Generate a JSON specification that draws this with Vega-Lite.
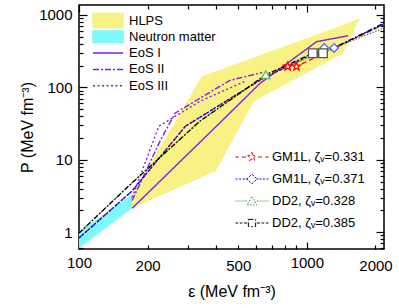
{
  "$schema": "https://vega.github.io/schema/vega-lite/v6.json",
  "width": 305,
  "height": 244,
  "autosize": "none",
  "padding": {"left": 79, "top": 5, "right": 15, "bottom": 59},
  "background": "white",
  "config": {
    "font": "Liberation Sans",
    "view": {"stroke": "black", "strokeWidth": 1.5},
    "axis": {"grid": false, "domain": false, "labelColor": "black", "titleColor": "black", "tickColor": "black", "tickWidth": 1.2, "titleFontWeight": "normal"},
    "legend": {"labelColor": "black"}
  },
  "datasets": {
    "hlps": [
      {"e": 171, "hi": 3.21, "lo": 2.13},
      {"e": 345, "hi": 141.5, "lo": 5.75},
      {"e": 399, "hi": 166.7, "lo": 7.06},
      {"e": 585, "hi": 259, "lo": 64.3},
      {"e": 1438, "hi": 725, "lo": 292},
      {"e": 1708, "hi": 900, "lo": 900}
    ],
    "nm": [
      {"e": 100, "hi": 1.0, "lo": 0.6},
      {"e": 171, "hi": 3.35, "lo": 2.13}
    ],
    "eos": [
      {"src": "EoS I", "e": 171, "p": 2.13},
      {"src": "EoS I", "e": 423, "p": 34.2},
      {"src": "EoS I", "e": 622, "p": 113},
      {"src": "EoS I", "e": 1103, "p": 427},
      {"src": "EoS I", "e": 1518, "p": 515},
      {"src": "EoS II", "e": 171, "p": 2.74},
      {"src": "EoS II", "e": 227, "p": 18.2},
      {"src": "EoS II", "e": 264, "p": 44},
      {"src": "EoS II", "e": 459, "p": 124.5},
      {"src": "EoS II", "e": 636, "p": 160},
      {"src": "EoS III", "e": 171, "p": 3.0},
      {"src": "EoS III", "e": 224, "p": 29},
      {"src": "EoS III", "e": 339, "p": 64},
      {"src": "EoS III", "e": 535, "p": 121}
    ],
    "models": [
      {"m": "GM1L, ζᵥ=0.331", "e": 100, "p": 0.83},
      {"m": "GM1L, ζᵥ=0.331", "e": 171, "p": 3.7},
      {"m": "GM1L, ζᵥ=0.331", "e": 293, "p": 29},
      {"m": "GM1L, ζᵥ=0.331", "e": 400, "p": 53},
      {"m": "GM1L, ζᵥ=0.331", "e": 500, "p": 82},
      {"m": "GM1L, ζᵥ=0.331", "e": 660, "p": 140},
      {"m": "GM1L, ζᵥ=0.331", "e": 824, "p": 194},
      {"m": "GM1L, ζᵥ=0.331", "e": 900, "p": 194},
      {"m": "GM1L, ζᵥ=0.331", "e": 1300, "p": 338},
      {"m": "GM1L, ζᵥ=0.331", "e": 2180, "p": 740},
      {"m": "GM1L, ζᵥ=0.371", "e": 100, "p": 0.83},
      {"m": "GM1L, ζᵥ=0.371", "e": 171, "p": 3.7},
      {"m": "GM1L, ζᵥ=0.371", "e": 293, "p": 29},
      {"m": "GM1L, ζᵥ=0.371", "e": 400, "p": 53},
      {"m": "GM1L, ζᵥ=0.371", "e": 500, "p": 82},
      {"m": "GM1L, ζᵥ=0.371", "e": 660, "p": 140},
      {"m": "GM1L, ζᵥ=0.371", "e": 824, "p": 194},
      {"m": "GM1L, ζᵥ=0.371", "e": 1000, "p": 264},
      {"m": "GM1L, ζᵥ=0.371", "e": 1192, "p": 350},
      {"m": "GM1L, ζᵥ=0.371", "e": 1316, "p": 350},
      {"m": "GM1L, ζᵥ=0.371", "e": 2180, "p": 750},
      {"m": "DD2, ζᵥ=0.328", "e": 100, "p": 0.97},
      {"m": "DD2, ζᵥ=0.328", "e": 171, "p": 4.8},
      {"m": "DD2, ζᵥ=0.328", "e": 339, "p": 34},
      {"m": "DD2, ζᵥ=0.328", "e": 500, "p": 80},
      {"m": "DD2, ζᵥ=0.328", "e": 660, "p": 149},
      {"m": "DD2, ζᵥ=0.328", "e": 2180, "p": 660},
      {"m": "DD2, ζᵥ=0.385", "e": 100, "p": 0.97},
      {"m": "DD2, ζᵥ=0.385", "e": 171, "p": 4.8},
      {"m": "DD2, ζᵥ=0.385", "e": 339, "p": 34},
      {"m": "DD2, ζᵥ=0.385", "e": 500, "p": 80},
      {"m": "DD2, ζᵥ=0.385", "e": 660, "p": 149},
      {"m": "DD2, ζᵥ=0.385", "e": 860, "p": 218},
      {"m": "DD2, ζᵥ=0.385", "e": 1062, "p": 295},
      {"m": "DD2, ζᵥ=0.385", "e": 1177, "p": 295},
      {"m": "DD2, ζᵥ=0.385", "e": 2180, "p": 770}
    ],
    "marks": [
      {"m": "GM1L, ζᵥ=0.331", "e": 824, "p": 194},
      {"m": "GM1L, ζᵥ=0.331", "e": 900, "p": 194},
      {"m": "GM1L, ζᵥ=0.371", "e": 1192, "p": 350},
      {"m": "GM1L, ζᵥ=0.371", "e": 1316, "p": 350},
      {"m": "DD2, ζᵥ=0.328", "e": 660, "p": 149},
      {"m": "DD2, ζᵥ=0.385", "e": 1062, "p": 295},
      {"m": "DD2, ζᵥ=0.385", "e": 1177, "p": 295}
    ]
  },
  "layer": [
    {
      "data": {"name": "hlps"},
      "mark": {"type": "area", "fill": "#F8F285", "opacity": 1},
      "encoding": {
        "x": {"field": "e", "type": "quantitative", "scale": {"type": "log", "domain": [100, 2180], "nice": false},
          "axis": {"orient": "bottom", "values": [100, 200, 300, 400, 500, 600, 700, 800, 900, 1000, 2000], "labelExpr": "indexof([100,200,500,1000,2000], datum.value) >= 0 ? format(datum.value,'d') : ''", "ticks": true, "tickSize": {"condition": {"test": "datum.value == 100 || datum.value == 1000", "value": -7}, "value": -4}, "labelFontSize": 15, "labelPadding": 13, "labelFlush": false, "labelOverlap": false, "title": "ε (MeV fm⁻³)", "titleFontSize": 16, "titlePadding": 10}},
        "y": {"field": "hi", "type": "quantitative", "scale": {"type": "log", "domain": [0.585, 1370], "nice": false},
          "axis": {"orient": "left", "values": [0.6, 0.7, 0.8, 0.9, 1, 2, 3, 4, 5, 6, 7, 8, 9, 10, 20, 30, 40, 50, 60, 70, 80, 90, 100, 200, 300, 400, 500, 600, 700, 800, 900, 1000], "labelExpr": "indexof([1,10,100,1000], datum.value) >= 0 ? format(datum.value,'d') : ''", "ticks": true, "tickSize": {"condition": {"test": "indexof([1,10,100,1000], datum.value) >= 0", "value": -8}, "value": -4}, "labelFontSize": 15, "labelPadding": 15, "labelFlush": false, "labelOverlap": false, "title": "P (MeV fm⁻³)", "titleFontSize": 16, "titlePadding": 3}},
        "y2": {"field": "lo"}
      }
    },
    {
      "data": {"name": "nm"},
      "mark": {"type": "area", "fill": "#7DF9FA", "opacity": 1},
      "encoding": {
        "x": {"field": "e", "type": "quantitative", "scale": {"type": "log", "domain": [100, 2180], "nice": false},
          "axis": {"orient": "top", "values": [100, 200, 300, 400, 500, 600, 700, 800, 900, 1000, 2000], "labels": false, "ticks": true, "tickSize": {"condition": {"test": "datum.value == 100 || datum.value == 1000", "value": -7}, "value": -4}, "title": null}},
        "y": {"field": "hi", "type": "quantitative", "scale": {"type": "log", "domain": [0.585, 1370], "nice": false},
          "axis": {"orient": "right", "values": [0.6, 0.7, 0.8, 0.9, 1, 2, 3, 4, 5, 6, 7, 8, 9, 10, 20, 30, 40, 50, 60, 70, 80, 90, 100, 200, 300, 400, 500, 600, 700, 800, 900, 1000], "labels": false, "ticks": true, "tickSize": {"condition": {"test": "indexof([1,10,100,1000], datum.value) >= 0", "value": -8}, "value": -4}, "title": null}},
        "y2": {"field": "lo"}
      }
    },
    {
      "data": {"name": "eos"},
      "mark": {"type": "line", "strokeWidth": 1.4},
      "encoding": {
        "x": {"field": "e", "type": "quantitative", "scale": {"type": "log", "domain": [100, 2180], "nice": false}, "axis": null},
        "y": {"field": "p", "type": "quantitative", "scale": {"type": "log", "domain": [0.585, 1370], "nice": false}, "axis": null},
        "color": {"field": "src", "type": "nominal",
          "scale": {"domain": ["HLPS", "Neutron matter", "EoS I", "EoS II", "EoS III"], "range": ["#F8F285", "#7DF9FA", "#8020F0", "#8020F0", "#8020F0"]},
          "legend": {"orient": "none", "legendX": 13, "legendY": 7.5, "title": null, "padding": 0, "clipHeight": 16, "rowPadding": 0.3, "labelFontSize": 13, "labelOffset": 5, "symbolSize": 900, "symbolStrokeWidth": 1.5,
            "encode": {"symbols": {"update": {
              "shape": {"signal": "['M-1,-0.5H1V0.5H-1Z','M-1,-0.38H1V0.38H-1Z','M-1,0H1','M-1,0H1','M-1,0H1'][datum.index]"},
              "fill": {"signal": "['#F8F285','#7DF9FA','transparent','transparent','transparent'][datum.index]"},
              "stroke": {"signal": "['transparent','transparent','#8020F0','#8020F0','#8020F0'][datum.index]"},
              "strokeDash": {"signal": "[[1,0],[1,0],[1,0],[6,2,2,2],[2,2.5]][datum.index]"},
              "opacity": {"value": 1}
            }}}}},
        "strokeDash": {"field": "src", "type": "nominal", "scale": {"domain": ["EoS I", "EoS II", "EoS III"], "range": [[1, 0], [6, 2, 2, 2], [2, 2.5]]}, "legend": null}
      }
    },
    {
      "data": {"name": "models"},
      "mark": {"type": "line", "strokeWidth": 1.3},
      "encoding": {
        "x": {"field": "e", "type": "quantitative", "scale": {"type": "log", "domain": [100, 2180], "nice": false}, "axis": null},
        "y": {"field": "p", "type": "quantitative", "scale": {"type": "log", "domain": [0.585, 1370], "nice": false}, "axis": null},
        "color": {"field": "m", "type": "nominal",
          "scale": {"domain": ["GM1L, ζᵥ=0.331", "GM1L, ζᵥ=0.371", "DD2, ζᵥ=0.328", "DD2, ζᵥ=0.385"], "range": ["#FF0000", "#0000FF", "#2E9B2E", "#000000"]},
          "legend": {"orient": "none", "legendX": 156, "legendY": 145, "title": null, "padding": 0, "clipHeight": 14, "rowPadding": 8, "labelFontSize": 13, "labelOffset": 3, "symbolSize": 1089, "symbolStrokeWidth": 1,
            "encode": {"symbols": {"update": {
              "shape": {"signal": "['M-1,0H-0.8M-0.62,0H-0.36M0.36,0H0.62M0.8,0H1M0,-0.28L0.066,-0.091L0.266,-0.087L0.106,0.035L0.165,0.227L0,0.112L-0.165,0.227L-0.106,0.035L-0.266,-0.087L-0.066,-0.091Z','M-1,0H-0.88M-0.78,0H-0.66M-0.56,0H-0.44M-0.38,0H-0.3M0.3,0H0.38M0.44,0H0.56M0.66,0H0.78M0.88,0H1M0,-0.3L0.3,0L0,0.3L-0.3,0Z','M-1,0H-0.94M-0.88,0H-0.82M-0.76,0H-0.7M-0.64,0H-0.58M-0.52,0H-0.46M-0.4,0H-0.3M0.3,0H0.4M0.46,0H0.52M0.58,0H0.64M0.7,0H0.76M0.82,0H0.88M0.94,0H1M0,-0.27L0.3,0.24L-0.3,0.24Z','M-1,0H-0.84M-0.74,0H-0.58M-0.48,0H-0.3M0.3,0H0.48M0.58,0H0.74M0.84,0H1M-0.22,-0.22H0.22V0.22H-0.22Z'][datum.index]"},
              "fill": {"value": "white"},
              "stroke": {"signal": "['#FF0000','#0000FF','#2E9B2E','#333333'][datum.index]"},
              "strokeDash": {"value": [1, 0]},
              "opacity": {"value": 1}
            }}}}},
        "strokeDash": {"field": "m", "type": "nominal", "scale": {"domain": ["GM1L, ζᵥ=0.331", "GM1L, ζᵥ=0.371", "DD2, ζᵥ=0.328", "DD2, ζᵥ=0.385"], "range": [[5, 3], [2.5, 1.5], [1.5, 1.5], [5, 2, 1.5, 2]]}, "legend": null}
      }
    },
    {
      "data": {"name": "marks"},
      "mark": {"type": "point", "fill": "white", "filled": false, "opacity": 1, "strokeWidth": 1.3, "size": 75},
      "encoding": {
        "x": {"field": "e", "type": "quantitative", "scale": {"type": "log", "domain": [100, 2180], "nice": false}, "axis": null},
        "y": {"field": "p", "type": "quantitative", "scale": {"type": "log", "domain": [0.585, 1370], "nice": false}, "axis": null},
        "shape": {"field": "m", "type": "nominal", "scale": {"domain": ["GM1L, ζᵥ=0.331", "GM1L, ζᵥ=0.371", "DD2, ζᵥ=0.328", "DD2, ζᵥ=0.385"], "range": ["M0,-1L0.235,-0.324L0.951,-0.309L0.38,0.124L0.588,0.809L0,0.4L-0.588,0.809L-0.38,0.124L-0.951,-0.309L-0.235,-0.324Z", "diamond", "triangle-up", "square"]}, "legend": null},
        "stroke": {"field": "m", "type": "nominal", "scale": {"domain": ["GM1L, ζᵥ=0.331", "GM1L, ζᵥ=0.371", "DD2, ζᵥ=0.328", "DD2, ζᵥ=0.385"], "range": ["#FF0000", "#5566FF", "#66AA66", "#555555"]}, "legend": null}
      }
    }
  ],
  "resolve": {"scale": {"x": "independent", "y": "independent", "color": "independent", "strokeDash": "independent"}, "axis": {"x": "independent", "y": "independent"}}
}
